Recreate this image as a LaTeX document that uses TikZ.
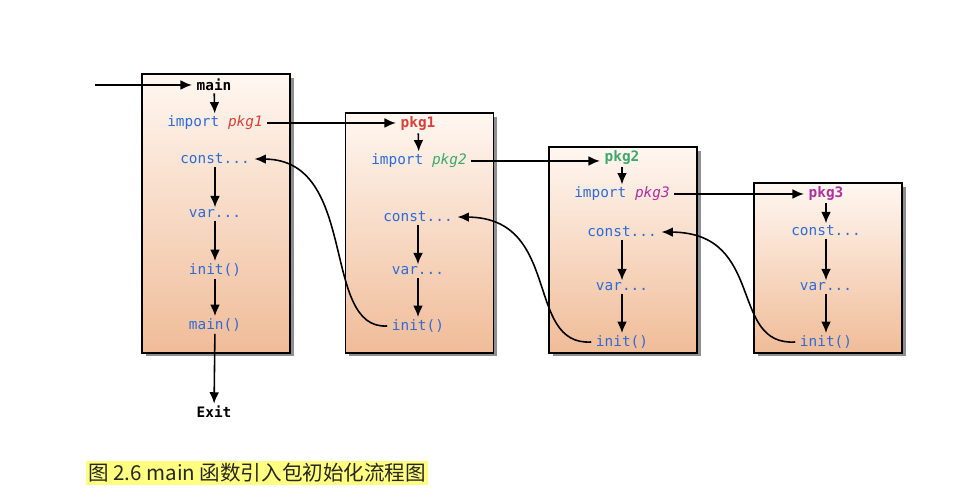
\documentclass[tikz,border=0pt]{standalone}
\usepackage{fontspec}
\setmonofont{DejaVu Sans Mono}
\newfontfamily\cjk{Noto Sans CJK SC}
\usepackage{tikz}
\usetikzlibrary{shadows,arrows.meta}
\definecolor{KEY}{HTML}{2E6BD6}
\definecolor{PKA}{HTML}{D9403A}
\definecolor{PKB}{HTML}{3FA86A}
\definecolor{PKC}{HTML}{B0309F}
\definecolor{TOP}{HTML}{FFF7F1}
\definecolor{BOT}{HTML}{F0BC98}
\definecolor{HL}{HTML}{FFFF80}

\begin{document}
\begin{tikzpicture}[
    x=0.02cm, y=-0.02cm,
    font=\ttfamily\fontsize{8.2}{10}\selectfont,
    every node/.style={inner xsep=2.5pt, inner ysep=1.2pt},
    box/.style={draw=black, line width=0.8pt, top color=TOP, bottom color=BOT, minimum width=2.96cm,
      drop shadow={shadow xshift=2pt, shadow yshift=-2pt, fill=black!55, opacity=0.8}},
    kw/.style={text=KEY},
    hd/.style={font=\ttfamily\bfseries\fontsize{8.2}{10}\selectfont},
    arr/.style={-{Latex[length=6.5pt,width=5.5pt]}, line width=0.9pt},
    captext/.style={fill=HL, inner xsep=1pt, inner ysep=1.5pt, text=black!85, font=\cjk\fontsize{11.7}{14}\selectfont},
  ]
  \useasboundingbox (0,0) rectangle (975,499);

  % package boxes
  \foreach \n/\x/\y/\h in {1/216/213.5/5.58, 2/419.5/233/4.8, 3/623/250/4.12, 4/828/268/3.4} {
    \node[box, minimum height=\h cm] (b\n) at (\x,\y) {};
  }

  % main
  \coordinate (in) at (95,85);
  \node[hd] (m) at (214,85) {main};
  \node (i1) at (215,123) {\textcolor{KEY}{import} \textcolor{PKA}{\itshape pkg1}};
  \node[kw] (c1) at (215,159) {const...};
  \node[kw] (v1) at (215,214) {var...};
  \node[kw] (n1) at (215,270) {init()};
  \node[kw] (f1) at (215,325) {main()};
  \node[hd] (ex) at (214,412) {Exit};

  % pkg1
  \node[hd, text=PKA] (p1) at (418,124) {pkg1};
  \node (i2) at (419,161) {\textcolor{KEY}{import} \textcolor{PKB}{\itshape pkg2}};
  \node[kw] (c2) at (418,217) {const...};
  \node[kw] (v2) at (418,271) {var...};
  \node[kw] (n2) at (418,326) {init()};

  % pkg2
  \node[hd, text=PKB] (p2) at (622,158) {pkg2};
  \node (i3) at (622,194) {\textcolor{KEY}{import} \textcolor{PKC}{\itshape pkg3}};
  \node[kw] (c3) at (622,232) {const...};
  \node[kw] (v3) at (622,287) {var...};
  \node[kw] (n3) at (622,342) {init()};

  % pkg3
  \node[hd, text=PKC] (p3) at (826,194) {pkg3};
  \node[kw] (c4) at (826,231) {const...};
  \node[kw] (v4) at (826,287) {var...};
  \node[kw] (n4) at (826,342) {init()};

  % flow inside the boxes
  \draw[arr] (in) -- (m);
  \foreach \a/\b in {m/i1, c1/v1, v1/n1, n1/f1, f1/ex, p1/i2, c2/v2, v2/n2,
                     p2/i3, c3/v3, v3/n3, p3/c4, c4/v4, v4/n4} {
    \draw[arr] (\a) -- (\b);
  }

  % imports
  \draw[arr] (i1.east) -- (i1.east -| p1.west);
  \draw[arr] (i2.east) -- (i2.east -| p2.west);
  \draw[arr] (i3.east) -- (i3.east -| p3.west);

  % back to the importer
  \draw[arr] (n2.west) .. controls +(-67,4) and +(105,1) .. (c1.east);
  \draw[arr] (n3.west) .. controls +(-67,4) and +(105,1) .. (c2.east);
  \draw[arr] (n4.west) .. controls +(-67,4) and +(105,1) .. (c3.east);

  \node[captext, anchor=west] (cp) at (86,473) {图 2.6 main 函数引入包初始化流程图};

\end{tikzpicture}
\end{document}
